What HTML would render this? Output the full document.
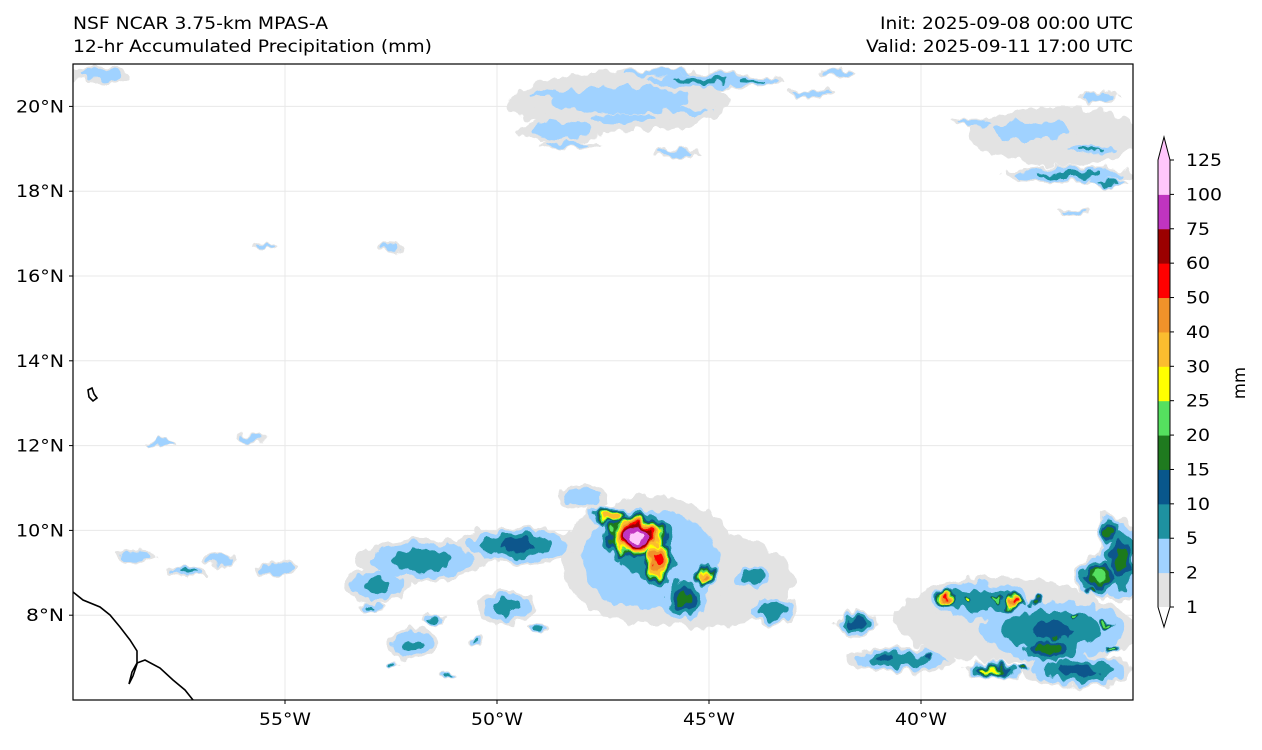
<!DOCTYPE html>
<html><head><meta charset="utf-8"><style>
body{margin:0;background:#fff;font-family:"Liberation Sans","DejaVu Sans",sans-serif;}
svg text{font-family:"DejaVu Sans","Liberation Sans",sans-serif;font-size:16.5px;fill:#000;}
</style></head><body>
<svg id="chart" width="1262" height="745" viewBox="0 0 1262 745" xmlns="http://www.w3.org/2000/svg">
<text x="73" y="29" textLength="255" lengthAdjust="spacingAndGlyphs">NSF NCAR 3.75-km MPAS-A</text>
<text x="73" y="52" textLength="359" lengthAdjust="spacingAndGlyphs">12-hr Accumulated Precipitation (mm)</text>
<text x="880" y="29" textLength="253" lengthAdjust="spacingAndGlyphs">Init: 2025-09-08 00:00 UTC</text>
<text x="866" y="52" textLength="267" lengthAdjust="spacingAndGlyphs">Valid: 2025-09-11 17:00 UTC</text>
<defs>
<clipPath id="mapclip"><rect x="73" y="64" width="1060" height="636"/></clipPath>
<filter id="rough" x="-5%" y="-5%" width="110%" height="110%">
<feTurbulence type="fractalNoise" baseFrequency="0.09 0.06" numOctaves="2" seed="3" result="n"/>
<feDisplacementMap in="SourceGraphic" in2="n" scale="16" xChannelSelector="R" yChannelSelector="G"/>
</filter>
</defs>
<g id="grid"></g>
<g clip-path="url(#mapclip)"><g id="field" filter="url(#rough)"></g></g>
<g clip-path="url(#mapclip)">
<path d="M73,592 L83,600 L100,607 L110,615 L120,627 L130,640 L137,651 L137,664 L133,676 L129,684 L132,672 L137,663 L145,660 L160,668 L173,680 L185,690 L193,700" fill="none" stroke="#000" stroke-width="1.6"/>
<path d="M88,390 L92,388 L94,394 L97,398 L93,401 L89,397 Z" fill="none" stroke="#000" stroke-width="1.6"/>
</g>
<rect x="73" y="64" width="1060" height="636" fill="none" stroke="#000" stroke-width="1.2"/>
<g id="axes"></g>
<g id="cbar"></g>
<text x="1245" y="383" text-anchor="middle" transform="rotate(-90 1245 383)">mm</text>
</svg>
<script>
const levels=[1,2,5,10,15,20,25,30,40,50,60,75,100,125];
const colors=['#e3e3e3','#a0d2ff','#1e91a0','#09578c','#1f7a1f','#55e05f','#ffff00','#fbbd2f','#f0922a','#ff0000','#9b0000','#c034c0','#ffc6fb'];
const lonTicks=[-55,-50,-45,-40];
const latTicks=[8,10,12,14,16,18,20];
// blobs: center lon, lat, radii (deg), peak (mm)
const blobLon=[-47.1,-45.2,-38.1,-36.8,-46.4,-46.7,-46.2,-47.3,-45.1,-45.6,-49.5,-51.8,-52.8,-58.5,-57.3,-36.9,-38.6,-36.3,-40.5,-35.3,-39.4,-37.8,-37.0,-35.8,-41.5,-43.5,-44.0,-47.1,-48.5,-45.2,-37.4,-36.5,-59.4,-55.8,-57.9,-52.5,-55.5,-52.0,-49.8,-48.0,-35.6,-38.3,-40.8,
 -48.6,-47.0,-45.5,-44.0,-46.2,-48.3,-45.8,-42.6,-42.0,-37.5,-36.0,-38.7,-35.6,-36.7,-36.4,-35.8,-56.5,-55.2,-53.0,-51.5,-50.5,-49.0,-52.5,-51.2,
 -38.9,-38.2,-37.3,-36.4,-35.6,-36.8,-35.5,-36.0,-39.8,-38.5,-37.6];
const blobLat=[20.1,8.8,7.9,19.3,9.3,9.85,9.3,10.35,8.95,8.4,9.65,9.3,8.7,9.4,9.0,7.65,8.35,6.7,6.95,9.3,8.4,8.3,7.2,8.9,7.8,8.1,8.9,20.15,19.45,20.6,19.45,18.4,20.74,12.2,12.08,16.66,16.73,7.3,8.2,10.8,10.0,6.7,7.0,
 20.3,19.7,19.9,20.6,20.8,19.1,18.9,20.3,20.8,19.3,19.0,19.6,18.2,18.4,17.5,20.2,9.3,9.1,8.2,7.9,7.4,7.7,6.8,6.6,
 8.4,8.4,8.3,8.0,7.8,7.5,7.2,8.6,7.0,6.7,6.8];
const blobRx=[2.6,2.2,2.5,2.0,2.1,1.0,0.5,0.6,0.4,0.6,1.4,1.5,0.8,0.5,0.5,2.0,1.4,1.3,1.3,0.5,0.35,0.4,0.9,0.6,0.5,0.6,0.5,2.4,1.0,1.6,1.2,1.6,0.7,0.4,0.35,0.3,0.3,0.6,0.7,0.6,0.3,0.7,0.4,
 0.8,1.0,0.7,0.8,1.0,0.7,0.6,0.6,0.5,0.8,0.7,0.5,0.5,0.6,0.4,0.5,0.4,0.5,0.3,0.3,0.25,0.3,0.2,0.2,
 0.2,0.2,0.2,0.2,0.2,0.2,0.2,0.2,0.2,0.3,0.2];
const blobRy=[0.7,1.1,1.0,0.7,1.5,0.7,0.8,0.3,0.3,0.6,0.45,0.5,0.4,0.15,0.15,0.8,0.5,0.4,0.3,1.0,0.25,0.25,0.4,0.5,0.3,0.35,0.3,0.5,0.3,0.2,0.3,0.2,0.2,0.1,0.08,0.1,0.07,0.4,0.4,0.3,0.4,0.2,0.2,
 0.12,0.15,0.12,0.12,0.1,0.1,0.1,0.1,0.1,0.12,0.12,0.1,0.1,0.12,0.08,0.12,0.15,0.15,0.12,0.12,0.1,0.1,0.08,0.08,
 0.12,0.12,0.1,0.12,0.12,0.1,0.1,0.1,0.1,0.08,0.08];
const blobPeak=[1.2,1.3,1.3,1.2,5.5,110,55,40,45,18,12,8,6,5,6,11,10,14,9,18,55,55,20,25,14,9,10,3,4,6,5,7,4,5,5,3,3,6,7,4,20,30,15,
 4,4,5,6,5,4,3,4,5,5,6,4,7,8,3,4,5,5,6,7,6,8,9,7,
 30,25,20,25,25,20,25,20,15,30,20];
const X0=73,X1=1133,Y0=64,Y1=700,LON0=-60,LON1=-35,LAT0=6,LAT1=21;
const xs=lon=>X0+(lon-LON0)/(LON1-LON0)*(X1-X0);
const ys=lat=>Y1-(lat-LAT0)/(LAT1-LAT0)*(Y1-Y0);
const NS='http://www.w3.org/2000/svg';
function mk(tag,attrs,parent){const e=document.createElementNS(NS,tag);for(const k in attrs)e.setAttribute(k,attrs[k]);parent.appendChild(e);return e;}
const grid=document.getElementById('grid'),axes=document.getElementById('axes'),field=document.getElementById('field'),cbar=document.getElementById('cbar');
lonTicks.forEach(l=>{const x=xs(l);
 const g=mk('line',{x1:x,x2:x,y1:Y0,y2:Y1,stroke:'#e8e8e8','stroke-width':1},grid);
 
 
 mk('line',{x1:x,x2:x,y1:Y1,y2:Y1+4,stroke:'#000'},axes);
 const tx=mk('text',{x:x,y:Y1+25,'text-anchor':'middle',textLength:52,lengthAdjust:'spacingAndGlyphs'},axes);tx.textContent=Math.abs(l)+'°W';
 
 });
latTicks.forEach(l=>{const y=ys(l);
 const g=mk('line',{x1:X0,x2:X1,y1:y,y2:y,stroke:'#e8e8e8','stroke-width':1},grid);
 
 
 mk('line',{x1:X0-4,x2:X0,y1:y,y2:y,stroke:'#000'},axes);
 const tx=mk('text',{x:X0-9,y:y+6,'text-anchor':'end',textLength:l<10?38:48,lengthAdjust:'spacingAndGlyphs'},axes);tx.textContent=l+'°N';
 
 });
const pxPerDegX=(X1-X0)/(LON1-LON0),pxPerDegY=(Y1-Y0)/(LAT1-LAT0);
for(let li=0;li<colors.length;li++){
 blobLon.forEach((lon,i)=>{const pk=blobPeak[i];if(pk<=levels[li])return;
  const f=Math.sqrt(1-Math.log(levels[li])/Math.log(pk+0.5));
  const e=mk('ellipse',{cx:xs(lon),cy:ys(blobLat[i]),rx:Math.max(1.5,blobRx[i]*pxPerDegX*f),ry:Math.max(1.2,blobRy[i]*pxPerDegY*f),fill:colors[li]},field);
  
  
 });
}
const CX=1158,CW=12,CB=607,CT=160;
const step=(CB-CT)/(levels.length-1);
const cy=i=>CB-i*step;
colors.forEach((c,i)=>{const r=mk('rect',{x:CX,y:cy(i+1),width:CW,height:step+0.5,fill:c},cbar);
 
 });
mk('path',{d:`M${CX},${CB} L${CX+CW/2},${CB+20} L${CX+CW},${CB} Z`,fill:'#ffffff',stroke:'none'},cbar);
mk('path',{d:`M${CX},${CT} L${CX+CW/2},${CT-23} L${CX+CW},${CT} Z`,fill:'#ffc6fb',stroke:'none'},cbar);
mk('path',{d:`M${CX},${CT} L${CX+CW/2},${CT-23} L${CX+CW},${CT} L${CX+CW},${CB} L${CX+CW/2},${CB+20} L${CX},${CB} Z`,fill:'none',stroke:'#000','stroke-width':1},cbar);
levels.forEach((v,i)=>{const y=cy(i);
 mk('line',{x1:CX+CW,x2:CX+CW+4,y1:y,y2:y,stroke:'#000'},cbar);
 const s=String(v);
 const t=mk('text',{x:CX+CW+16,y:y+6,textLength:s.length*12,lengthAdjust:'spacingAndGlyphs'},cbar);t.textContent=s;
 
 });
</script>
</body></html>
